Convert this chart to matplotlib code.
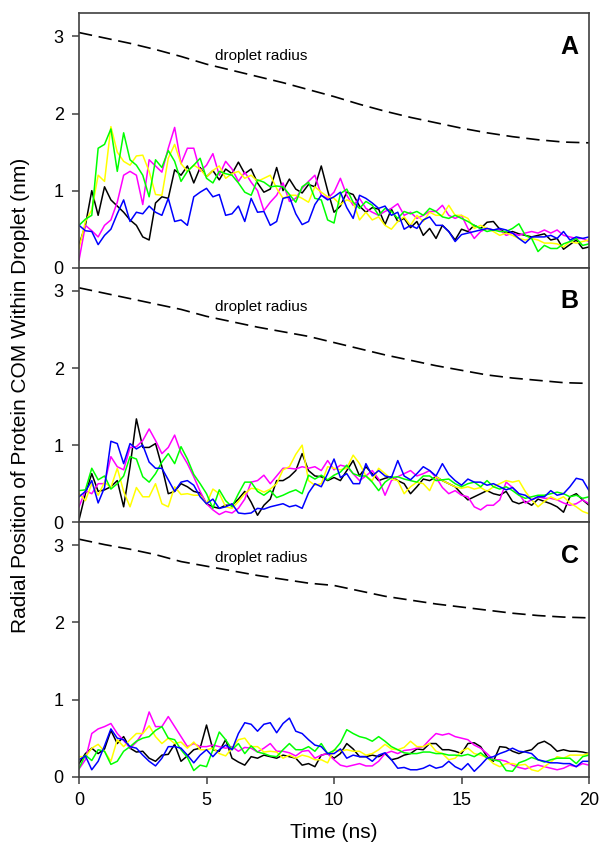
import numpy as np
import matplotlib
matplotlib.use('Agg')
import matplotlib.pyplot as plt

plt.rcParams['font.family'] = ['Liberation Sans', 'DejaVu Sans']

# === DATI ===
t_radius = list(range(0, 21))
radius_A = [3.05, 2.98, 2.91, 2.83, 2.74, 2.64, 2.56, 2.48, 2.40, 2.31, 2.22,
            2.12, 2.03, 1.95, 1.88, 1.81, 1.75, 1.70, 1.66, 1.63, 1.62]
radius_B = [3.04, 2.97, 2.90, 2.83, 2.76, 2.67, 2.60, 2.53, 2.47, 2.41, 2.33,
            2.25, 2.17, 2.10, 2.03, 1.97, 1.91, 1.87, 1.84, 1.81, 1.80]
radius_C = [3.08, 3.01, 2.95, 2.88, 2.79, 2.73, 2.67, 2.61, 2.56, 2.51, 2.48,
            2.41, 2.34, 2.29, 2.24, 2.20, 2.16, 2.12, 2.09, 2.07, 2.06]

# traiettorie campionate ogni 0.25 ns (0 -> 20 ns)
t_traj = np.arange(81) * 0.25

black_A = [0.30, 0.55, 1.00, 0.68, 1.05, 0.88, 0.80, 0.72, 0.62, 0.55, 0.40, 0.36, 0.84, 0.92, 0.90, 1.27,
           1.20, 1.32, 1.10, 1.30, 1.18, 1.26, 1.14, 1.28, 1.22, 1.37, 1.22, 1.28, 1.10, 0.98, 1.02, 1.30,
           1.00, 1.15, 1.02, 0.97, 1.08, 1.05, 1.32, 1.00, 0.72, 0.80, 0.98, 0.95, 0.80, 0.72, 0.78, 0.76,
           0.56, 0.76, 0.60, 0.64, 0.52, 0.60, 0.42, 0.51, 0.38, 0.55, 0.47, 0.36, 0.50, 0.47, 0.55, 0.51,
           0.59, 0.60, 0.50, 0.45, 0.47, 0.44, 0.42, 0.40, 0.42, 0.44, 0.36, 0.38, 0.24, 0.30, 0.36, 0.25,
           0.27]
magenta_A = [0.10, 0.55, 0.48, 0.40, 0.55, 0.62, 0.85, 1.20, 1.25, 1.20, 0.82, 1.40, 1.32, 1.24, 1.55, 1.82,
             1.35, 1.55, 1.55, 1.25, 1.33, 1.48, 1.20, 1.38, 1.28, 1.12, 1.24, 1.11, 1.00, 0.74, 0.85, 0.94,
             1.10, 0.86, 0.90, 1.03, 1.12, 1.20, 0.94, 0.90, 0.98, 1.16, 0.94, 0.81, 0.90, 0.77, 0.72, 0.68,
             0.73, 0.77, 0.83, 0.68, 0.72, 0.64, 0.68, 0.73, 0.73, 0.81, 0.68, 0.64, 0.68, 0.51, 0.38, 0.47,
             0.51, 0.49, 0.49, 0.42, 0.45, 0.42, 0.45, 0.47, 0.45, 0.49, 0.45, 0.49, 0.42, 0.40, 0.38, 0.38,
             0.34]
yellow_A = [0.25, 0.60, 0.75, 1.20, 1.12, 1.83, 1.50, 1.38, 1.33, 1.45, 1.46, 1.25, 0.95, 0.94, 1.42, 1.60,
            1.35, 1.25, 1.33, 1.28, 1.18, 1.26, 1.32, 1.16, 1.22, 1.25, 1.16, 1.20, 1.12, 1.16, 1.20, 1.03,
            0.90, 0.94, 0.94, 0.90, 0.85, 1.05, 0.98, 0.92, 0.90, 0.82, 0.88, 0.85, 0.62, 0.72, 0.62, 0.66,
            0.55, 0.50, 0.60, 0.66, 0.55, 0.68, 0.60, 0.72, 0.68, 0.68, 0.81, 0.68, 0.68, 0.64, 0.51, 0.55,
            0.51, 0.47, 0.42, 0.45, 0.42, 0.38, 0.36, 0.38, 0.36, 0.32, 0.32, 0.31, 0.27, 0.34, 0.32, 0.34,
            0.36]
green_A = [0.55, 0.63, 0.68, 1.55, 1.60, 1.80, 1.25, 1.75, 1.40, 1.33, 1.20, 0.92, 1.40, 1.30, 1.52, 1.38,
           1.12, 1.25, 1.33, 1.42, 1.16, 1.10, 1.25, 1.22, 1.20, 1.10, 0.98, 0.94, 1.14, 1.11, 1.05, 1.06,
           1.05, 0.95, 0.85, 1.05, 1.11, 0.90, 0.88, 0.62, 0.58, 0.96, 1.02, 0.85, 0.77, 0.86, 0.81, 0.68,
           0.77, 0.73, 0.64, 0.73, 0.70, 0.73, 0.68, 0.77, 0.73, 0.66, 0.64, 0.68, 0.64, 0.60, 0.55, 0.51,
           0.47, 0.49, 0.47, 0.47, 0.51, 0.57, 0.42, 0.38, 0.21, 0.29, 0.25, 0.25, 0.31, 0.34, 0.38, 0.29,
           0.31]
blue_A = [0.55, 0.48, 0.47, 0.30, 0.42, 0.50, 0.70, 0.88, 0.60, 0.72, 0.70, 0.80, 0.72, 0.68, 0.90, 0.60,
          0.62, 0.55, 0.92, 0.98, 1.03, 0.92, 0.95, 0.68, 0.70, 0.80, 0.60, 0.90, 0.72, 0.73, 0.55, 0.60,
          0.90, 0.92, 0.70, 0.56, 0.60, 0.82, 0.94, 0.88, 0.92, 0.98, 0.78, 0.64, 0.94, 0.90, 0.84, 0.77,
          0.80, 0.68, 0.72, 0.50, 0.55, 0.51, 0.62, 0.66, 0.55, 0.55, 0.47, 0.34, 0.43, 0.45, 0.47, 0.49,
          0.51, 0.49, 0.51, 0.49, 0.45, 0.38, 0.32, 0.40, 0.40, 0.40, 0.42, 0.38, 0.47, 0.36, 0.40, 0.38,
          0.40]

black_B = [0.03, 0.37, 0.63, 0.40, 0.42, 0.46, 0.54, 0.20, 0.72, 1.34, 0.97, 0.97, 1.02, 0.72, 0.37, 0.40,
           0.50, 0.46, 0.40, 0.38, 0.24, 0.20, 0.18, 0.22, 0.22, 0.30, 0.40, 0.26, 0.09, 0.22, 0.30, 0.54,
           0.54, 0.59, 0.67, 0.89, 0.67, 0.60, 0.59, 0.54, 0.58, 0.54, 0.67, 0.80, 0.60, 0.72, 0.63, 0.54,
           0.57, 0.59, 0.54, 0.50, 0.37, 0.46, 0.56, 0.54, 0.59, 0.54, 0.50, 0.46, 0.37, 0.29, 0.33, 0.37,
           0.41, 0.37, 0.35, 0.40, 0.27, 0.24, 0.27, 0.22, 0.30, 0.27, 0.24, 0.20, 0.13, 0.33, 0.37, 0.29,
           0.22]
magenta_B = [0.20, 0.41, 0.37, 0.50, 0.50, 0.85, 0.72, 0.68, 0.97, 0.98, 1.06, 1.21, 1.06, 0.89, 0.97, 1.13,
             0.90, 0.76, 0.59, 0.40, 0.24, 0.16, 0.10, 0.14, 0.12, 0.18, 0.30, 0.52, 0.54, 0.61, 0.50, 0.60,
             0.70, 0.70, 0.69, 0.72, 0.70, 0.72, 0.67, 0.80, 0.68, 0.74, 0.72, 0.63, 0.54, 0.60, 0.67, 0.56,
             0.35, 0.54, 0.59, 0.63, 0.67, 0.60, 0.63, 0.67, 0.58, 0.45, 0.37, 0.41, 0.35, 0.33, 0.20, 0.16,
             0.22, 0.22, 0.29, 0.52, 0.45, 0.37, 0.25, 0.29, 0.33, 0.31, 0.31, 0.29, 0.25, 0.22, 0.24, 0.29,
             0.24]
yellow_B = [0.37, 0.28, 0.50, 0.35, 0.52, 0.45, 0.70, 0.40, 0.20, 0.45, 0.33, 0.33, 0.50, 0.24, 0.20, 0.46,
            0.36, 0.37, 0.35, 0.35, 0.24, 0.43, 0.37, 0.20, 0.18, 0.27, 0.37, 0.44, 0.43, 0.39, 0.43, 0.50,
            0.68, 0.72, 0.88, 1.00, 0.54, 0.48, 0.50, 0.72, 0.70, 0.68, 0.70, 0.87, 0.76, 0.60, 0.54, 0.70,
            0.63, 0.56, 0.54, 0.37, 0.46, 0.52, 0.50, 0.41, 0.59, 0.54, 0.50, 0.46, 0.44, 0.46, 0.43, 0.45,
            0.40, 0.46, 0.50, 0.54, 0.52, 0.54, 0.40, 0.29, 0.20, 0.27, 0.33, 0.29, 0.33, 0.25, 0.20, 0.14,
            0.11]
green_B = [0.41, 0.42, 0.70, 0.55, 0.60, 0.43, 0.50, 0.60, 0.85, 0.82, 0.59, 0.52, 0.63, 0.78, 0.89, 0.76,
           0.98, 0.82, 0.62, 0.50, 0.37, 0.18, 0.42, 0.28, 0.20, 0.37, 0.52, 0.52, 0.40, 0.35, 0.41, 0.32,
           0.35, 0.39, 0.42, 0.37, 0.61, 0.56, 0.61, 0.55, 0.61, 0.65, 0.74, 0.63, 0.60, 0.60, 0.52, 0.41,
           0.52, 0.58, 0.59, 0.56, 0.54, 0.52, 0.60, 0.60, 0.54, 0.55, 0.56, 0.50, 0.46, 0.50, 0.52, 0.46,
           0.54, 0.46, 0.43, 0.46, 0.41, 0.35, 0.31, 0.33, 0.35, 0.35, 0.37, 0.39, 0.37, 0.33, 0.35, 0.31,
           0.33]
blue_B = [0.33, 0.40, 0.54, 0.25, 0.45, 1.05, 1.02, 0.76, 1.02, 0.95, 1.00, 0.78, 0.70, 0.70, 0.55, 0.40,
          0.52, 0.54, 0.48, 0.33, 0.24, 0.30, 0.18, 0.20, 0.24, 0.12, 0.11, 0.12, 0.18, 0.17, 0.20, 0.22,
          0.24, 0.20, 0.22, 0.18, 0.38, 0.50, 0.46, 0.63, 0.82, 0.58, 0.63, 0.50, 0.50, 0.76, 0.60, 0.67,
          0.60, 0.58, 0.80, 0.60, 0.55, 0.63, 0.72, 0.67, 0.60, 0.76, 0.62, 0.54, 0.48, 0.56, 0.52, 0.52,
          0.48, 0.50, 0.46, 0.42, 0.45, 0.37, 0.35, 0.29, 0.33, 0.33, 0.41, 0.35, 0.37, 0.46, 0.57, 0.55,
          0.41]

black_C = [0.17, 0.30, 0.37, 0.30, 0.36, 0.60, 0.43, 0.52, 0.37, 0.32, 0.33, 0.24, 0.20, 0.28, 0.29, 0.42,
           0.20, 0.27, 0.35, 0.37, 0.67, 0.35, 0.33, 0.48, 0.24, 0.19, 0.15, 0.26, 0.24, 0.28, 0.26, 0.24,
           0.28, 0.26, 0.24, 0.15, 0.17, 0.13, 0.28, 0.30, 0.24, 0.30, 0.43, 0.36, 0.26, 0.26, 0.28, 0.26,
           0.30, 0.22, 0.24, 0.28, 0.30, 0.36, 0.35, 0.43, 0.43, 0.35, 0.35, 0.33, 0.30, 0.43, 0.44, 0.39,
           0.26, 0.20, 0.39, 0.38, 0.33, 0.30, 0.33, 0.35, 0.43, 0.46, 0.41, 0.33, 0.35, 0.33, 0.33, 0.32,
           0.30]
magenta_C = [0.10, 0.22, 0.56, 0.62, 0.65, 0.69, 0.56, 0.47, 0.37, 0.45, 0.57, 0.84, 0.65, 0.65, 0.78, 0.65,
             0.52, 0.39, 0.43, 0.39, 0.39, 0.41, 0.39, 0.37, 0.39, 0.33, 0.38, 0.37, 0.32, 0.37, 0.43, 0.33,
             0.33, 0.31, 0.27, 0.33, 0.34, 0.24, 0.28, 0.30, 0.22, 0.15, 0.13, 0.15, 0.17, 0.14, 0.14, 0.20,
             0.30, 0.33, 0.30, 0.34, 0.35, 0.37, 0.39, 0.48, 0.56, 0.54, 0.56, 0.52, 0.50, 0.48, 0.41, 0.37,
             0.30, 0.22, 0.22, 0.20, 0.15, 0.12, 0.10, 0.13, 0.15, 0.13, 0.11, 0.09, 0.11, 0.15, 0.13, 0.17,
             0.15]
yellow_C = [0.26, 0.26, 0.37, 0.42, 0.33, 0.20, 0.48, 0.39, 0.48, 0.56, 0.56, 0.66, 0.52, 0.43, 0.50, 0.43,
            0.45, 0.37, 0.45, 0.35, 0.35, 0.37, 0.30, 0.27, 0.37, 0.48, 0.50, 0.39, 0.39, 0.32, 0.33, 0.32,
            0.24, 0.28, 0.24, 0.28, 0.26, 0.22, 0.22, 0.18, 0.35, 0.33, 0.35, 0.33, 0.33, 0.28, 0.30, 0.35,
            0.42, 0.36, 0.35, 0.38, 0.46, 0.39, 0.39, 0.43, 0.33, 0.30, 0.22, 0.24, 0.33, 0.37, 0.30, 0.28,
            0.25, 0.17, 0.13, 0.17, 0.17, 0.15, 0.16, 0.09, 0.07, 0.13, 0.19, 0.26, 0.24, 0.28, 0.28, 0.28,
            0.30]
green_C = [0.11, 0.28, 0.21, 0.35, 0.33, 0.16, 0.20, 0.33, 0.39, 0.46, 0.50, 0.52, 0.60, 0.65, 0.50, 0.48,
           0.35, 0.25, 0.08, 0.15, 0.13, 0.35, 0.58, 0.48, 0.35, 0.43, 0.30, 0.40, 0.32, 0.30, 0.27, 0.26,
           0.35, 0.43, 0.35, 0.35, 0.39, 0.33, 0.43, 0.30, 0.34, 0.44, 0.61, 0.56, 0.52, 0.50, 0.46, 0.52,
           0.46, 0.39, 0.35, 0.31, 0.30, 0.30, 0.32, 0.32, 0.30, 0.30, 0.28, 0.28, 0.27, 0.29, 0.26, 0.31,
           0.24, 0.22, 0.20, 0.08, 0.07, 0.18, 0.21, 0.25, 0.22, 0.19, 0.22, 0.24, 0.24, 0.24, 0.17, 0.26,
           0.28]
blue_C = [0.22, 0.27, 0.09, 0.20, 0.40, 0.62, 0.50, 0.48, 0.39, 0.37, 0.28, 0.20, 0.14, 0.24, 0.39, 0.39,
          0.37, 0.28, 0.18, 0.28, 0.35, 0.26, 0.35, 0.41, 0.35, 0.56, 0.70, 0.68, 0.59, 0.68, 0.70, 0.57,
          0.69, 0.76, 0.59, 0.56, 0.48, 0.41, 0.39, 0.30, 0.30, 0.36, 0.24, 0.28, 0.26, 0.26, 0.20, 0.28,
          0.31, 0.22, 0.11, 0.12, 0.09, 0.09, 0.11, 0.15, 0.11, 0.13, 0.20, 0.13, 0.09, 0.17, 0.07, 0.15,
          0.24, 0.26, 0.30, 0.33, 0.37, 0.33, 0.32, 0.30, 0.22, 0.20, 0.18, 0.18, 0.17, 0.17, 0.13, 0.20,
          0.20]

colori = ['black', '#ff00ff', '#ffff00', '#00ff00', '#0000ff']
pannelli = [
    ('A', radius_A, [black_A, magenta_A, yellow_A, green_A, blue_A], 2.74),
    ('B', radius_B, [black_B, magenta_B, yellow_B, green_B, blue_B], 2.79),
    ('C', radius_C, [black_C, magenta_C, yellow_C, green_C, blue_C], 2.84),
]

# === FIGURA ===
fig = plt.figure(figsize=(6, 8.46), dpi=100)
left, width, h = 0.1317, 0.85, 0.3008
bottom0 = 0.0819
spine_col = '#404040'

for i, (lettera, raggio, tracce, y_testo) in enumerate(pannelli):
    ax = fig.add_axes([left, bottom0 + (2 - i) * h, width, h])
    for serie, col in zip(tracce, colori):
        ax.plot(t_traj, serie, color=col, lw=1.1)
    ax.plot(t_radius, raggio, color='black', lw=1.2, dashes=(8, 4))
    ax.text(5.33, y_testo, 'droplet radius', fontsize=11, va='center', ha='left')
    ax.text(0.98, 0.915, lettera, transform=ax.transAxes, fontsize=18,
            fontweight='bold', ha='right', va='top')

    ax.set_xlim(0, 20)
    ax.set_ylim(0, 3.3)
    ax.set_yticks([0, 1, 2, 3])
    for s in ax.spines.values():
        s.set_color(spine_col)
        s.set_linewidth(1.2)
    ax.tick_params(axis='both', direction='out', length=5, width=1.1,
                   color=spine_col, labelsize=13, pad=6)
    if i < 2:
        ax.tick_params(axis='x', bottom=False, labelbottom=False)
    else:
        ax.set_xticks([0, 5, 10, 15, 20])
        ax.set_xlabel('Time (ns)', fontsize=15, labelpad=10)

fig.text(0.035, 1 - 395 / 846, 'Radial Position of Protein COM Within Droplet (nm)',
         rotation=90, fontsize=15, ha='center', va='center')

fig.savefig('out.png', dpi=100)
